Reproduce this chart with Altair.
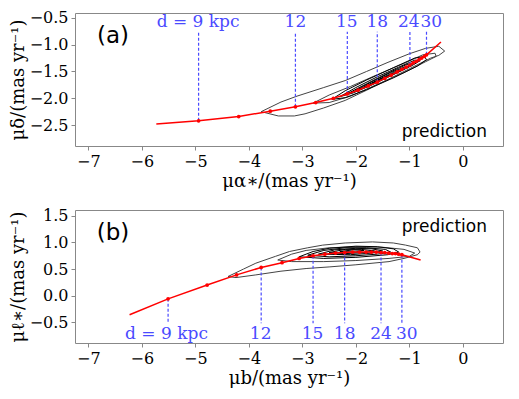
import altair as alt
import pandas as pd

# ---------------- data: panel (a) ----------------
a_dist = list(range(9, 31))
a_dot_x = [-4.94, -4.19, -3.60, -3.13, -2.75, -2.42, -2.16, -1.96, -1.77, -1.60, -1.46,
           -1.34, -1.23, -1.14, -1.06, -0.99, -0.93, -0.87, -0.82, -0.77, -0.72, -0.68]
a_dot_y = [-2.42, -2.34, -2.24, -2.16, -2.08, -2.00, -1.92, -1.85, -1.77, -1.70, -1.63,
           -1.57, -1.51, -1.46, -1.42, -1.38, -1.34, -1.31, -1.28, -1.25, -1.22, -1.19]
a_line_start = (-5.73, -2.48)
a_line_end = (-0.41, -0.95)

# ---------------- data: panel (b) ----------------
b_dist = list(range(9, 31))
b_dot_x = [-5.51, -4.78, -4.23, -3.77, -3.38, -3.06, -2.80, -2.58, -2.38, -2.21, -2.06,
           -1.93, -1.81, -1.71, -1.62, -1.53, -1.46, -1.39, -1.32, -1.26, -1.20, -1.14]
b_dot_y = [-0.06, 0.20, 0.39, 0.53, 0.62, 0.70, 0.75, 0.78, 0.80, 0.81, 0.82,
           0.82, 0.82, 0.82, 0.82, 0.81, 0.81, 0.80, 0.79, 0.79, 0.78, 0.77]
b_line_start = (-6.23, -0.36)
b_line_end = (-0.79, 0.67)

# labelled distances
lab_dist = [9, 12, 15, 18, 24, 30]
lab_text = ["d = 9 kpc", "12", "15", "18", "24", "30"]
a_lab_x = [-4.95, -3.13, -2.17, -1.60, -1.01, -0.59]
a_lab_y = -0.57
a_rule_end = -0.76
b_lab_x = [-5.54, -3.78, -2.81, -2.21, -1.53, -1.05]
b_lab_y = -0.73
b_rule_end = -0.52

# density contours (closed polygons), panel (a)
a_contours = [
    ("outer", [-3.77, -3.4, -3.1, -2.6, -2.2, -1.8, -1.4, -1.0, -0.7, -0.45, -0.34, -0.45, -0.6, -1.0, -1.4, -1.8, -2.2, -2.6, -2.95, -3.15, -3.45, -3.77],
              [-2.25, -2.07, -1.96, -1.80, -1.67, -1.50, -1.33, -1.17, -1.07, -1.03, -1.12, -1.20, -1.25, -1.45, -1.65, -1.85, -2.04, -2.18, -2.29, -2.33, -2.33, -2.25]),
    ("outer", [-2.80, -2.5, -2.1, -1.6, -1.1, -0.75, -0.52, -0.50, -0.7, -1.1, -1.6, -2.1, -2.5, -2.80],
              [-2.09, -1.94, -1.78, -1.56, -1.35, -1.19, -1.16, -1.22, -1.32, -1.52, -1.74, -1.96, -2.08, -2.09]),
    ("inner", [-2.45, -2.2, -1.8, -1.3, -0.9, -0.72, -0.68, -0.85, -1.3, -1.8, -2.2, -2.45],
              [-2.02, -1.86, -1.66, -1.43, -1.25, -1.22, -1.28, -1.40, -1.62, -1.84, -1.99, -2.02]),
    ("inner", [-2.3, -2.0, -1.6, -1.2, -0.9, -0.8, -0.95, -1.3, -1.7, -2.05, -2.3],
              [-1.97, -1.80, -1.60, -1.42, -1.29, -1.30, -1.39, -1.56, -1.75, -1.90, -1.97]),
    ("inner", [-2.15, -1.8, -1.4, -1.05, -0.92, -1.05, -1.4, -1.8, -2.15],
              [-1.91, -1.73, -1.53, -1.37, -1.35, -1.43, -1.60, -1.79, -1.91]),
    ("inner", [-2.0, -1.7, -1.35, -1.05, -1.1, -1.4, -1.7, -2.0],
              [-1.85, -1.69, -1.52, -1.40, -1.45, -1.59, -1.74, -1.85]),
    ("inner", [-1.85, -1.6, -1.3, -1.15, -1.25, -1.55, -1.85],
              [-1.79, -1.66, -1.52, -1.46, -1.52, -1.67, -1.79]),
    ("inner", [-1.7, -1.5, -1.3, -1.35, -1.55, -1.7],
              [-1.72, -1.62, -1.54, -1.57, -1.67, -1.72]),
]

# density contours, panel (b)
b_contours = [
    ("outer", [-4.39, -4.1, -3.87, -3.5, -3.24, -2.9, -2.62, -2.2, -1.69, -1.3, -1.07, -0.85, -0.80, -0.85, -1.1, -1.38, -2.0, -2.5, -2.93, -3.4, -3.87, -4.24, -4.39],
              [0.36, 0.50, 0.61, 0.74, 0.83, 0.90, 0.95, 0.99, 1.01, 0.99, 0.95, 0.90, 0.82, 0.77, 0.70, 0.64, 0.58, 0.54, 0.51, 0.46, 0.39, 0.34, 0.36]),
    ("outer", [-3.46, -3.2, -2.93, -2.5, -2.0, -1.5, -1.1, -0.9, -1.0, -1.38, -2.0, -2.6, -3.2, -3.46],
              [0.67, 0.78, 0.85, 0.90, 0.92, 0.91, 0.87, 0.80, 0.74, 0.70, 0.66, 0.64, 0.64, 0.67]),
    ("inner", [-3.06, -2.8, -2.5, -2.0, -1.6, -1.3, -1.2, -1.4, -2.0, -2.6, -3.06],
              [0.73, 0.83, 0.89, 0.93, 0.92, 0.88, 0.82, 0.77, 0.72, 0.70, 0.73]),
    ("inner", [-2.9, -2.6, -2.2, -1.8, -1.45, -1.35, -1.6, -2.0, -2.5, -2.9],
              [0.76, 0.85, 0.90, 0.90, 0.87, 0.82, 0.78, 0.75, 0.73, 0.76]),
    ("inner", [-2.7, -2.4, -2.0, -1.7, -1.5, -1.7, -2.1, -2.7],
              [0.78, 0.86, 0.89, 0.88, 0.84, 0.80, 0.77, 0.78]),
    ("inner", [-2.5, -2.2, -1.9, -1.65, -1.85, -2.2, -2.5],
              [0.81, 0.87, 0.87, 0.84, 0.81, 0.79, 0.81]),
    ("inner", [-2.3, -2.05, -1.85, -2.0, -2.3],
              [0.83, 0.86, 0.85, 0.82, 0.83]),
]

X_DOMAIN = [-7.25, 0.75]
X_TICKS = [-7, -6, -5, -4, -3, -2, -1, 0]
A_Y_DOMAIN = [-2.89, -0.41]
A_Y_TICKS = [-2.5, -2.0, -1.5, -1.0, -0.5]
B_Y_DOMAIN = [-0.89, 1.61]
B_Y_TICKS = [-0.5, 0.0, 0.5, 1.0, 1.5]

W, H = 428, 133
SERIF = "DejaVu Serif"
SANS = "DejaVu Sans"
BLUE = "#4a4aff"


def contour_df(contours):
    rows = []
    for i, (kind, xs, ys) in enumerate(contours):
        for j, (x, y) in enumerate(zip(xs, ys)):
            rows.append({"cid": i, "kind": kind, "ord": j, "x": x, "y": y})
    return pd.DataFrame(rows)


def panel(dot_x, dot_y, start, end, contours, lab_x, lab_y, rule_end,
          ydom, yticks, xtitle, ytitle, tag, pred_y):
    xs = alt.Scale(domain=X_DOMAIN, nice=False, zero=False)
    ys = alt.Scale(domain=ydom, nice=False, zero=False)
    xax = alt.Axis(values=X_TICKS, format="d", title=xtitle, labelOverlap=False, titlePadding=3)
    yax = alt.Axis(values=yticks, format=".1f", title=ytitle, labelOverlap=False, titlePadding=2)

    def X(f="x:Q"):
        return alt.X(f, scale=xs, axis=xax)

    def Y(f="y:Q"):
        return alt.Y(f, scale=ys, axis=yax)

    cdf = contour_df(contours)
    cont = alt.Chart(cdf).mark_line(strokeWidth=1.0, clip=True).encode(
        x=X(), y=Y(),
        detail="cid:N",
        order="ord:Q",
        color=alt.Color("kind:N", scale=alt.Scale(domain=["outer", "inner"], range=["#444444", "#000000"]), legend=None),
    )

    ddf = pd.DataFrame({"x": dot_x, "y": dot_y, "d": list(range(9, 31))})
    ldf = pd.DataFrame({
        "x": [start[0]] + dot_x + [end[0]],
        "y": [start[1]] + dot_y + [end[1]],
        "o": list(range(len(dot_x) + 2)),
    })
    sel = [dot_x[dist - 9] for dist in lab_dist]
    sely = [dot_y[dist - 9] for dist in lab_dist]
    rdf = pd.DataFrame({"x": sel, "y": sely, "y2": [rule_end] * len(sel)})
    tdf = pd.DataFrame({"x": lab_x, "y": [lab_y] * len(lab_x), "t": lab_text})

    rules = alt.Chart(rdf).mark_rule(color=BLUE, strokeWidth=1.2, strokeDash=[3, 2]).encode(
        x=X(), y=Y(), y2="y2:Q")
    line = alt.Chart(ldf).mark_line(color="#ff0000", strokeWidth=1.5).encode(
        x=X(), y=Y(), order="o:Q")
    dots = alt.Chart(ddf).mark_circle(color="#ff0000", size=14, opacity=1).encode(
        x=X(), y=Y())
    labels = alt.Chart(tdf).mark_text(font=SERIF, fontSize=17, color=BLUE, baseline="middle").encode(
        x=X(), y=Y(), text="t:N")
    pdf = pd.DataFrame({"x": [0.45], "y": [pred_y], "t": ["prediction"]})
    pred = alt.Chart(pdf).mark_text(font=SANS, fontSize=17, align="right", baseline="middle", color="black").encode(
        x=X(), y=Y(), text="t:N")
    tg = alt.Chart(pd.DataFrame({"t": [tag]})).mark_text(
        font=SANS, fontSize=23, align="center", baseline="middle", color="black").encode(
        x=alt.value(38), y=alt.value(23), text="t:N")

    return alt.layer(cont, rules, line, dots, labels, pred, tg).properties(width=W, height=H)


pa = panel(a_dot_x, a_dot_y, a_line_start, a_line_end, a_contours, a_lab_x, a_lab_y, a_rule_end,
           A_Y_DOMAIN, A_Y_TICKS, "μα∗/(mas yr⁻¹)", "μδ/(mas yr⁻¹)", "(a)", -2.62)
pb = panel(b_dot_x, b_dot_y, b_line_start, b_line_end, b_contours, b_lab_x, b_lab_y, b_rule_end,
           B_Y_DOMAIN, B_Y_TICKS, "μb/(mas yr⁻¹)", "μℓ∗/(mas yr⁻¹)", "(b)", 1.29)

chart = alt.vconcat(pa, pb, spacing=16).properties(
    padding={"left": 0, "top": 1, "right": 0, "bottom": 0}
).configure_view(stroke="#888888", strokeWidth=1).configure_axis(
    labelFont=SERIF, labelFontSize=16, labelColor="black",
    titleFont=SERIF, titleFontSize=18, titleFontWeight="normal", titleColor="black",
    grid=False, domain=False, tickColor="#888888", tickSize=4, labelPadding=3,
    labelOverlap=False,
)

chart.save("out.html", embed_options={"renderer": "svg", "actions": False})
